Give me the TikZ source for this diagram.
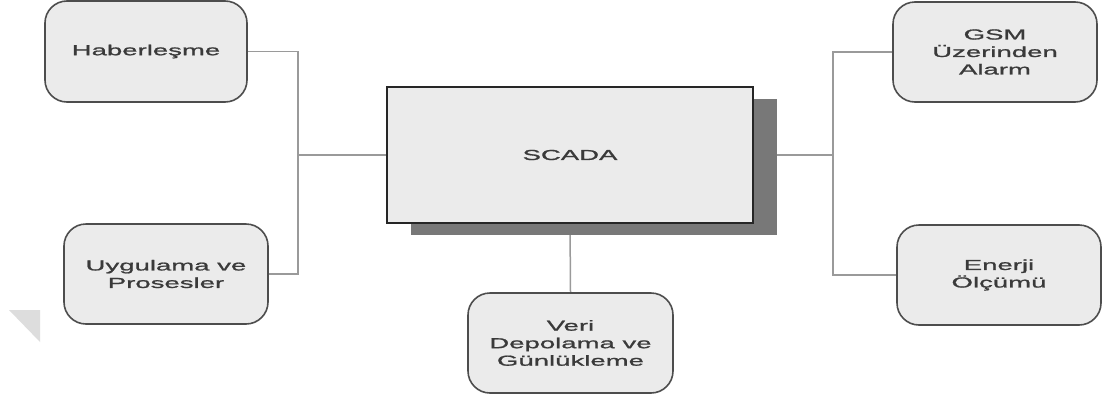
\documentclass[tikz,border=0pt]{standalone}
\usepackage{fontspec}
\newfontfamily\boxfont[FakeStretch=1.9,FakeBold=1.2]{Liberation Sans}
\usetikzlibrary{shadows,backgrounds}
\definecolor{boxfill}{HTML}{EBEBEB}
\definecolor{boxline}{HTML}{4D4D4D}
\definecolor{wireline}{HTML}{9A9A9A}
\definecolor{shadowgray}{HTML}{787878}
\definecolor{textgray}{HTML}{3A3A3A}
\definecolor{wmgray}{HTML}{DDDDDD}
\tikzset{
  boxtext/.style={text=textgray, font=\boxfont\fontsize{14.5}{17.5}\selectfont, align=center, inner sep=0pt},
  roundbox/.style={boxtext, draw=boxline, line width=1.6pt, fill=boxfill, rounded corners=22pt,
    minimum width=203pt, minimum height=100pt},
  mainbox/.style={boxtext, draw=black!85, line width=1.4pt, fill=boxfill,
    minimum width=366pt, minimum height=136pt,
    drop shadow={shadow xshift=24pt, shadow yshift=-12pt, fill=shadowgray, opacity=1}},
  wire/.style={draw=wireline, line width=1.5pt}
}
\begin{document}
\begin{tikzpicture}[x=1pt, y=-1pt]
\useasboundingbox (0,0) rectangle (1102,399);
\fill[wmgray] (9,310) -- (40,310) -- (40,342) -- cycle;

\node[mainbox] (scada) at (570,155) {SCADA};
\node[roundbox, minimum width=202pt, minimum height=101pt] (hab) at (146,51.5) {Haberleşme};
\node[roundbox, minimum width=204pt] (uyg) at (166,274) {Uygulama ve\\Prosesler};
\node[roundbox, minimum width=205pt] (veri) at (570.5,343) {Veri\\Depolama ve\\Günlükleme};
\node[roundbox, minimum width=204pt] (gsm) at (995,52) {GSM\\Üzerinden\\Alarm};
\node[roundbox, minimum width=204pt] (ene) at (999,275) {Enerji\\Ölçümü};

\coordinate (lbus) at (298,155);
\coordinate (rbus) at (833,155);

\begin{scope}[on background layer]
\fill[white] (0,0) rectangle (1102,399);
\draw[wire] (hab.east) -| (lbus) |- (uyg.east);
\draw[wire] (scada.west) -- (lbus);
\draw[wire] (gsm.west) -| (rbus) |- (ene.west);
\draw[wire] (scada.east) -- (rbus);
\draw[wire] (scada.south) -- (veri.north);
\end{scope}
\end{tikzpicture}
\end{document}
